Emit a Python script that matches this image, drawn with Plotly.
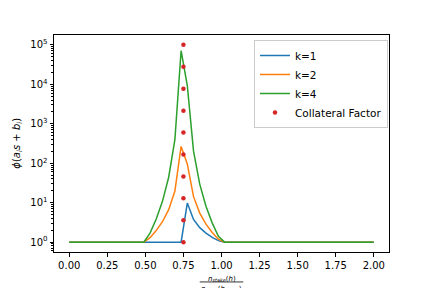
import plotly.graph_objects as go

ratio = [0.0, 0.0408, 0.0816, 0.1224, 0.1633, 0.2041, 0.2449, 0.2857, 0.3265, 0.3673,
         0.4082, 0.449, 0.4898, 0.5306, 0.5714, 0.6122, 0.6531, 0.6939, 0.7347, 0.7755,
         0.8163, 0.8571, 0.898, 0.9388, 0.9796, 1.0204, 1.0612, 1.102, 1.1429, 1.1837,
         1.2245, 1.2653, 1.3061, 1.3469, 1.3878, 1.4286, 1.4694, 1.5102, 1.551, 1.5918,
         1.6327, 1.6735, 1.7143, 1.7551, 1.7959, 1.8367, 1.8776, 1.9184, 1.9592, 2.0]

phi_k1 = [1, 1, 1, 1, 1, 1, 1, 1, 1, 1,
          1, 1, 1, 1, 1, 1, 1, 1, 1, 9.8,
          3.77, 2.33, 1.69, 1.32, 1.09, 1, 1, 1, 1, 1,
          1, 1, 1, 1, 1, 1, 1, 1, 1, 1,
          1, 1, 1, 1, 1, 1, 1, 1, 1, 1]

phi_k2 = [1, 1, 1, 1, 1, 1, 1, 1, 1, 1,
          1, 1, 1, 1.30, 1.96, 3.29, 6.65, 19.8, 267, 96.0,
          14.2, 5.44, 2.85, 1.75, 1.19, 1, 1, 1, 1, 1,
          1, 1, 1, 1, 1, 1, 1, 1, 1, 1,
          1, 1, 1, 1, 1, 1, 1, 1, 1, 1]

phi_k4 = [1, 1, 1, 1, 1, 1, 1, 1, 1, 1,
          1, 1, 1, 1.69, 3.84, 10.8, 44.2, 394, 71200, 9220,
          202, 29.6, 8.15, 3.08, 1.41, 1, 1, 1, 1, 1,
          1, 1, 1, 1, 1, 1, 1, 1, 1, 1,
          1, 1, 1, 1, 1, 1, 1, 1, 1, 1]

collateral_x = [0.75, 0.75, 0.75, 0.75, 0.75, 0.75, 0.75, 0.75, 0.75, 0.75]
collateral_y = [1, 3.59, 12.9, 46.4, 167, 599, 2150, 7740, 27800, 100000]

x_ticks = [0, 0.25, 0.5, 0.75, 1.0, 1.25, 1.5, 1.75, 2.0]
y_ticks = [1, 10, 100, 1000, 10000, 100000]
y_tick_text = ["10<sup>0</sup>", "10<sup>1</sup>", "10<sup>2</sup>",
               "10<sup>3</sup>", "10<sup>4</sup>", "10<sup>5</sup>"]

FONT = "DejaVu Sans"

fig = go.Figure()
fig.add_trace(go.Scatter(x=ratio, y=phi_k1, mode="lines", name="k=1",
                         line=dict(color="#1f77b4", width=1.5)))
fig.add_trace(go.Scatter(x=ratio, y=phi_k2, mode="lines", name="k=2",
                         line=dict(color="#ff7f0e", width=1.5)))
fig.add_trace(go.Scatter(x=ratio, y=phi_k4, mode="lines", name="k=4",
                         line=dict(color="#2ca02c", width=1.5)))
fig.add_trace(go.Scatter(x=collateral_x, y=collateral_y, mode="markers",
                         name="Collateral Factor",
                         marker=dict(color="#d62728", size=4.5)))

fig.update_layout(
    width=432, height=288,
    margin=dict(l=54, r=43, t=35, b=36),
    paper_bgcolor="white", plot_bgcolor="white",
    font=dict(family=FONT, size=10, color="black"),
    legend=dict(x=0.997, y=0.977, xanchor="right", yanchor="top",
                bordercolor="#cccccc", borderwidth=1, bgcolor="rgba(255,255,255,0.8)",
                font=dict(size=10.5), itemwidth=30, tracegroupgap=0),
)
fig.update_xaxes(
    range=[-0.1, 2.1], tickvals=x_ticks, tickformat=".2f",
    showline=True, linecolor="black", linewidth=1, mirror=True,
    ticks="outside", ticklen=3.5, tickcolor="black", showgrid=False, zeroline=False,
)
fig.update_yaxes(
    type="log", range=[-0.25, 5.25], tickvals=y_ticks, ticktext=y_tick_text,
    showline=True, linecolor="black", linewidth=1, mirror=True,
    ticks="outside", ticklen=3.5, tickcolor="black", showgrid=False, zeroline=False,
    minor=dict(ticks="outside", ticklen=2, tickcolor="black", dtick="D1", showgrid=False),
)

fig.add_annotation(text="<i>ϕ</i>(<i>a<sub>i</sub>s</i> + <i>b<sub>i</sub></i>)",
                   xref="paper", yref="paper", x=-0.11, y=0.5, textangle=-90,
                   showarrow=False, font=dict(size=10), xanchor="center", yanchor="middle")
fig.add_annotation(text="<i>n<sub>stake</sub></i>(<i>h</i>)",
                   xref="paper", yref="paper", x=0.5, y=-0.125, yanchor="middle",
                   showarrow=False, font=dict(size=7))
fig.add_annotation(text="<i>n<sub>need</sub></i>(<i>h<sub>mean</sub></i>)",
                   xref="paper", yref="paper", x=0.5, y=-0.143, yanchor="top",
                   showarrow=False, font=dict(size=7))
fig.add_shape(type="line", xref="paper", yref="paper", x0=0.435, x1=0.565,
              y0=-0.138, y1=-0.138, line=dict(color="black", width=0.8))

fig.write_html("out.html", config={"displayModeBar": False},
               post_script="document.body.style.margin='0';")
